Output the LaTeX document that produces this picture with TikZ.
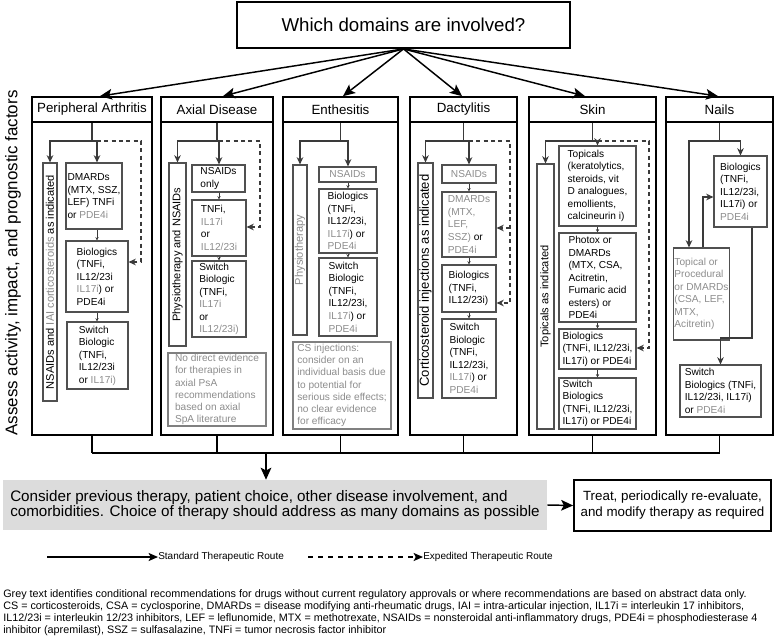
\documentclass[tikz,border=0pt]{standalone}
\usepackage{fontspec}
\setmainfont{Liberation Sans}
\usetikzlibrary{arrows.meta,calc}
\definecolor{gtxt}{HTML}{8C8C8C}
\definecolor{bord}{HTML}{505050}
\definecolor{nbord}{HTML}{808080}
\definecolor{lnc}{HTML}{3A3A3A}
\definecolor{gfill}{HTML}{DCDCDC}
\newcommand\gr[1]{\textcolor{gtxt}{#1}}
\newcommand\bx[7][]{\pgfmathsetmacro\bxw{(#5-#3)*0.75}\pgfmathsetmacro\bxh{(#6-#4)*0.75}\node[minimum width=\bxw pt,minimum height=\bxh pt,#1] (#2) at ({(#3+#5)/2},{(#4+#6)/2}) {#7};}
\newcommand\rbx[7][]{\pgfmathsetmacro\bxw{(#5-#3)*0.75}\pgfmathsetmacro\bxh{(#6-#4)*0.75}\node[rbox,minimum width=\bxh pt,minimum height=\bxw pt,#1] (#2) at ({(#3+#5)/2},{(#4+#6)/2}) {#7};}
\tikzset{
 ibox/.style={draw=bord, line width=0.8pt, align=left, inner sep=0.5pt, font=\fontsize{7.6}{9.4}\selectfont},
 nbox/.style={draw=nbord, line width=0.8pt, align=left, inner sep=0.5pt, text=gtxt, font=\fontsize{7.6}{9.1}\selectfont},
 rbox/.style={draw=bord, line width=0.8pt, rotate=90, inner sep=0pt, font=\fontsize{8.3}{9}\selectfont},
 hbox/.style={draw=black, line width=1.3pt, inner sep=0pt, font=\fontsize{10}{12}\selectfont},
 cbody/.style={draw=black, line width=1.3pt, inner sep=0pt},
 tbox/.style={draw=black, line width=1.4pt, inner sep=0pt, font=\fontsize{14}{16}\selectfont},
 gbox/.style={fill=gfill, align=left, inner sep=0pt, font=\fontsize{11.4}{11.6}\selectfont},
 trbox/.style={draw=black, line width=1.3pt, align=center, inner sep=0pt, font=\fontsize{10}{12}\selectfont},
 ln/.style={draw=lnc, line width=0.9pt},
 bl/.style={draw=black, line width=1.1pt},
 darr/.style={ln, -{Stealth[length=5.5pt,width=5pt]}},
 tarr/.style={draw=lnc, line width=0.5pt, -{Stealth[length=2.5pt,width=2.5pt]}},
 xarr/.style={ln, dash pattern=on 3pt off 2.5pt, -{Stealth[length=5.5pt,width=5pt]}},
 barr/.style={line width=1.1pt, -{Stealth[length=9pt,width=8pt,inset=2pt]}},
 legarr/.style={line width=1pt, -{Stealth[length=7pt,width=6pt,inset=1.5pt]}},
}
\begin{document}
\begin{tikzpicture}[x=0.75pt,y=-0.75pt]
\useasboundingbox (0,0) rectangle (778,639);
% title
\bx[tbox]{q}{237}{2}{570}{48}{Which domains are involved?}
% left label
\node[rotate=90, font=\fontsize{12.7}{14}\selectfont, inner sep=0pt] (as) at (13,263) {Assess activity, impact, and prognostic factors};
% column bodies
\bx[cbody]{pab}{32}{122}{152}{435}{}
\bx[cbody]{axb}{161}{122}{273}{435}{}
\bx[cbody]{enb}{283}{122}{398}{435}{}
\bx[cbody]{dab}{410}{122}{517}{435}{}
\bx[cbody]{skb}{529}{122}{656}{435}{}
\bx[cbody]{nab}{666}{122}{773}{435}{}
% headers
\bx[hbox]{pah}{32}{97}{152}{122}{Peripheral Arthritis}
\bx[hbox]{axh}{161}{97}{273}{122}{Axial Disease}
\bx[hbox]{enh}{283}{97}{398}{122}{Enthesitis}
\bx[hbox]{dah}{410}{97}{517}{122}{Dactylitis}
\bx[hbox]{skh}{529}{97}{656}{122}{Skin}
\bx[hbox]{nah}{666}{97}{773}{122}{Nails}
% main arrows
\draw[barr] (q.south) -- ($(pah.north)+(8,0)$);
\draw[barr] (q.south) -- ($(axh.north)+(6,0)$);
\draw[barr] (q.south) -- ($(enh.north)+(2.5,0)$);
\draw[barr] (q.south) -- ($(dah.north)+(-1.5,0)$);
\draw[barr] (q.south) -- ($(skh.north)+(-7.5,0)$);
\draw[barr] (q.south) -- ($(nah.north)+(-1.5,0)$);

% ---------- Peripheral Arthritis
\rbx{pa1}{43}{163}{57}{401}{NSAIDs and \gr{IAI corticosteroids} as indicated}
\bx[ibox]{pa2}{66}{163}{122}{229}{DMARDs\\(MTX, SSZ,\\LEF) TNFi\\or \gr{PDE4i}}
\bx[ibox]{pa3}{66}{241}{128}{312}{Biologics\\(TNFi,\\IL12/23i\\\gr{IL17i}) or\\PDE4i}
\bx[ibox]{pa4}{67}{322}{128}{389}{Switch\\Biologic\\(TNFi,\\IL12/23i\\or \gr{IL17i)}}
\coordinate (paj) at (92,141);
\coordinate (pad1) at (141,141);
\coordinate (pad2) at (141,262);
\draw[ln] (pah.south) -- (paj);
\draw[darr] (paj) -| (pa1);
\draw[darr] (paj) -| (pa2.north -| pa3.north);
\draw[xarr] (paj -| pa3.north) -- (pad1) -- (pad2) -- (pad2 -| pa3.east);
\draw[tarr] (pa2.south -| pa3.north) -- (pa3.north);
\draw[tarr] (pa3.south) -- (pa3.south |- pa4.north);

% ---------- Axial
\rbx{ax1}{169}{163}{186}{346}{Physiotherapy and NSAIDs}
\bx[ibox]{ax2}{192}{165}{245}{192}{NSAIDs\\only}
\bx[ibox]{ax3}{192}{200}{246}{256}{TNFi,\\\gr{IL17i}\\or\\\gr{IL12/23i}}
\bx[ibox]{ax4}{192}{261}{246}{337}{Switch\\Biologic\\(TNFi,\\\gr{IL17i}\\or\\\gr{IL12/23i)}}
\bx[nbox]{ax5}{168}{353}{266}{426}{No direct evidence\\for therapies in\\axial PsA\\recommendations\\based on axial\\SpA literature}
\coordinate (axj) at (217,141);
\coordinate (axd1) at (260,141);
\coordinate (axd2) at (260,227);
\draw[ln] (axh.south) -- (axj);
\draw[darr] (axj) -| (ax1);
\draw[darr] (axj) -| (ax2.north -| ax3.north);
\draw[xarr] (axj -| ax3.north) -- (axd1) -- (axd2) -- (axd2 -| ax3.east);
\draw[tarr] (ax2.south -| ax3.north) -- (ax3.north);
\draw[tarr] (ax3.south) -- (ax3.south |- ax4.north);

% ---------- Enthesitis
\rbx[text=gtxt]{en1}{293}{165}{307}{335}{Physiotherapy}
\bx[ibox,text=gtxt,align=center]{en2}{319}{167}{376}{182}{NSAIDs}
\bx[ibox]{en3}{319}{189}{377}{253}{Biologics\\(TNFi,\\IL12/23i,\\\gr{IL17i}) or\\\gr{PDE4i}}
\bx[ibox]{en4}{319}{258}{377}{336}{Switch\\Biologic\\(TNFi,\\IL12/23i,\\\gr{IL17i}) or\\\gr{PDE4i}}
\bx[nbox]{en5}{293}{342}{391}{429}{CS injections:\\consider on an\\individual basis due\\to potential for\\serious side effects;\\no clear evidence\\for efficacy}
\coordinate (enj) at (340.5,141);
\draw[ln] (enh.south) -- (enj);
\draw[darr] (enj) -| (en1);
\draw[darr] (enj) -| (en2.north -| en3.north);
\draw[tarr] (en2.south -| en3.north) -- (en3.north);
\draw[tarr] (en3.south) -- (en3.south |- en4.north);

% ---------- Dactylitis
\rbx[font=\fontsize{9.8}{10}\selectfont]{da1}{418}{163}{433}{398}{Corticosteroid injections as indicated}
\bx[ibox,text=gtxt,align=center]{da2}{442}{165}{496}{183}{NSAIDs}
\bx[ibox]{da3}{442}{192}{496}{257}{\gr{DMARDs}\\\gr{(MTX,}\\\gr{LEF,}\\\gr{SSZ)} or\\\gr{PDE4i}}
\bx[ibox]{da4}{442}{265}{496}{312}{Biologics\\(TNFi,\\IL12/23i)}
\bx[ibox]{da5}{442}{319}{496}{398}{Switch\\Biologic\\(TNFi,\\IL12/23i,\\\gr{IL17i}) or\\\gr{PDE4i}}
\coordinate (daj) at (463.5,141);
\coordinate (dad1) at (510,141);
\coordinate (dad2) at (510,303);
\coordinate (dad3) at (510,228);
\draw[ln] (dah.south) -- (daj);
\draw[darr] (daj) -| (da1);
\draw[darr] (daj) -| (da2);
\draw[xarr] (daj -| da2.north) -- (dad1) -- (dad2) -- (dad2 -| da4.east);
\draw[xarr] (dad3) -- (dad3 -| da3.east);
\draw[tarr] (da2.south) -- (da3.north);
\draw[tarr] (da3.south) -- (da4.north);
\draw[tarr] (da4.south) -- (da5.north);

% ---------- Skin
\rbx{sk1}{537}{164}{554}{429}{Topicals as indicated}
\bx[ibox]{sk2}{559}{146}{636}{226}{Topicals\\(keratolytics,\\steroids, vit\\D analogues,\\emollients,\\calcineurin i)}
\bx[ibox]{sk3}{559}{233}{636}{322}{Photox or\\DMARDs\\(MTX, CSA,\\Acitretin,\\Fumaric acid\\esters) or\\PDE4i}
\bx[ibox]{sk4}{559}{329}{636}{369}{Biologics\\(TNFi, IL12/23i,\\IL17i) or PDE4i}
\bx[ibox]{sk5}{559}{378}{636}{429}{Switch\\Biologics\\(TNFi, IL12/23i,\\IL17i) or PDE4i}
\coordinate (skj) at (592.5,141);
\coordinate (skd1) at (649,141);
\coordinate (skd2) at (649,348);
\draw[ln] (skh.south) -- (skj);
\draw[darr] (skj) -| (sk1);
\draw[darr] (skj) -| (sk2);
\draw[xarr] (skj -| sk2.north) -- (skd1) -- (skd2) -- (skd2 -| sk4.east);
\draw[tarr] (sk2.south) -- (sk3.north);
\draw[tarr] (sk3.south) -- (sk4.north);
\draw[tarr] (sk4.south) -- (sk5.north);

% ---------- Nails
\bx[ibox]{na1}{714}{156}{767}{227}{Biologics\\(TNFi,\\IL12/23i,\\IL17i) or\\\gr{PDE4i}}
\bx[ibox,text=gtxt]{na2}{674}{248}{729}{340}{Topical or\\Procedural\\or DMARDs\\(CSA, LEF,\\MTX,\\Acitretin)}
\bx[ibox]{na3}{680}{365}{761}{417}{Switch\\Biologics (TNFi,\\IL12/23i, IL17i)\\or \gr{PDE4i}}
\coordinate (naj) at (719.5,141);
\coordinate (nal) at (689,141);
\coordinate (nau) at (703,197);
\coordinate (nadn) at (752,338);
\draw[ln] (nah.south) -- (naj);
\draw[darr] (naj) -| (na1);
\draw[darr] (naj) -- (nal) -- (nal |- na2.north);
\draw[darr] (nau |- na2.north) -- (nau) -- (nau -| na1.west);
\draw[darr] (nadn |- na1.south) -- (nadn) -| (na3);

% ---------- bottom
\coordinate (hy) at (0,453);
\foreach \c in {pab,axb,enb,dab,skb,nab} \draw[bl] (\c.south) -- (\c.south |- hy);
\draw[bl] (pab.south |- hy) -- (nab.south |- hy);
\bx[gbox]{g}{3}{480}{547}{530}{Consider previous therapy, patient choice, other disease involvement, and\\comorbidities. Choice of therapy should address as many domains as possible}
\bx[trbox]{t}{574}{480}{771}{531}{Treat, periodically re-evaluate,\\and modify therapy as required}
\coordinate (ga) at (266,453);
\draw[barr] (ga) -- (ga |- g.north);
\draw[barr] (g.east) -- (t.west);

% legend
\coordinate (ls1) at (47,557);
\coordinate (ls2) at (308,557);
\node[anchor=west, inner sep=0pt, font=\fontsize{7.5}{9}\selectfont] (lt1) at (158,557) {Standard Therapeutic Route};
\node[anchor=west, inner sep=0pt, font=\fontsize{7.5}{9}\selectfont] (lt2) at (423,557) {Expedited Therapeutic Route};
\draw[legarr] (ls1) -- (lt1.west);
\draw[legarr, dash pattern=on 4pt off 3.5pt] (ls2) -- (lt2.west);

% footnote
\node[anchor=north west, align=left, inner sep=0pt, font=\fontsize{8.1}{9.1}\selectfont] (fn) at (3,589) {Grey text identifies conditional recommendations for drugs without current regulatory approvals or where recommendations are based on abstract data only.\\CS = corticosteroids, CSA = cyclosporine, DMARDs = disease modifying anti-rheumatic drugs, IAI = intra-articular injection, IL17i = interleukin 17 inhibitors,\\IL12/23i = interleukin 12/23 inhibitors, LEF = leflunomide, MTX = methotrexate, NSAIDs = nonsteroidal anti-inflammatory drugs, PDE4i = phosphodiesterase 4\\inhibitor (apremilast), SSZ = sulfasalazine, TNFi = tumor necrosis factor inhibitor};
\end{tikzpicture}
\end{document}
